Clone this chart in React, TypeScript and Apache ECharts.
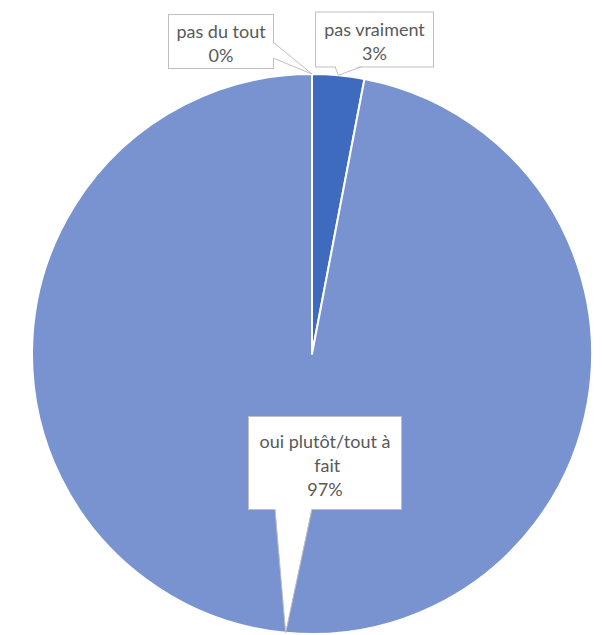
import React, { useEffect, useRef } from "react";
import * as echarts from "echarts";

const categories = ["pas du tout", "pas vraiment", "oui plutôt/tout à fait"];
const values = [0, 3, 97];
const sliceColors = ["#2F5597", "#3F6BBE", "#7893D0"];

// layout (pixels)
const CX = 312;
const CY = 354;
const R = 280;
const FONT = "Lato, 'Noto Sans', sans-serif";
// callout boxes: centre x, top y, width, padding
const boxes = [
  { cx: 221, top: 15, w: 104, pad: [4, 0, 1, 0] },
  { cx: 374.5, top: 12.5, w: 117, pad: [4, 0, 2, 0] },
  { cx: 325, top: 417, w: 152, pad: [12, 0, 8, 0] },
];
// pointer bases on box edges, with inward direction
const pointerBases = [
  { a: [273, 42], b: [273, 58], inward: [-1.5, 0] },
  { a: [335, 66.5], b: [362, 66.5], inward: [0, -1.5] },
  { a: [275, 509], b: [312, 509], inward: [0, -1.5] },
];

export default function App() {
  const ref = useRef<HTMLDivElement>(null);
  useEffect(() => {
    if (!ref.current) return;
    const chart = echarts.init(ref.current, null, { renderer: "svg" });
    const total = values.reduce((s, v) => s + v, 0);
    let cum = 0;
    const tips = values.map((v) => {
      const th = (2 * Math.PI * (cum + v / 2)) / total;
      cum += v;
      return [CX + R * Math.sin(th), CY - R * Math.cos(th)];
    });
    const graphics: any[] = [];
    pointerBases.forEach((p, i) => {
      const t = tips[i];
      graphics.push({
        type: "polygon",
        z: 100,
        shape: {
          points: [
            [p.a[0] + p.inward[0], p.a[1] + p.inward[1]],
            t,
            [p.b[0] + p.inward[0], p.b[1] + p.inward[1]],
          ],
        },
        style: { fill: "#ffffff", stroke: null },
        silent: true,
      });
      graphics.push({
        type: "polyline",
        z: 101,
        shape: { points: [p.a, t, p.b] },
        style: { stroke: "#BFBFBF", lineWidth: 1, fill: null },
        silent: true,
      });
    });

    chart.setOption({
      animation: false,
      backgroundColor: "#ffffff",
      graphic: graphics,
      series: [
        {
          type: "pie",
          center: [CX, CY],
          radius: [0, R],
          startAngle: 90,
          clockwise: true,
          avoidLabelOverlap: false,
          percentPrecision: 0,
          stillShowZeroSum: true,
          itemStyle: { borderColor: "#ffffff", borderWidth: 2 },
          labelLine: { show: false },
          label: {
            show: true,
            position: "outside",
            formatter: "{b}\n{d}%",
            fontFamily: FONT,
            fontSize: 18,
            lineHeight: 24,
            color: "#595959",
            backgroundColor: "#ffffff",
            borderColor: "#BFBFBF",
            borderWidth: 1,
            align: "center",
            overflow: "break",
          },
          labelLayout: (params: any) => {
            const b = boxes[params.dataIndex];
            return { x: b.cx, y: b.top, align: "center", verticalAlign: "top" };
          },
          data: categories.map((name, i) => ({
            name,
            value: values[i],
            itemStyle: { color: sliceColors[i] },
            label: { width: boxes[i].w, padding: boxes[i].pad },
          })),
        },
      ],
    });
    return () => chart.dispose();
  }, []);
  return (
    <div
      ref={ref}
      style={{ position: "absolute", left: 0, top: 0, width: 608, height: 635 }}
    />
  );
}
